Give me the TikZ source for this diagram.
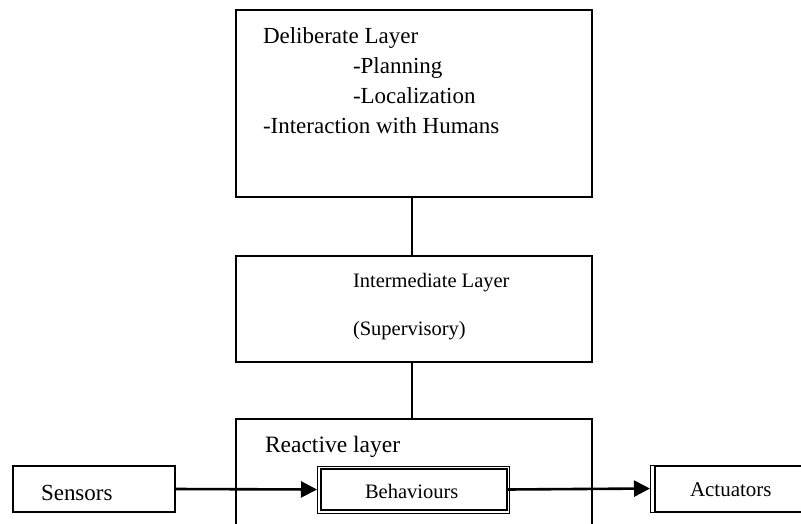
\documentclass[tikz,border=0pt]{standalone}
\usepackage{fontspec}
\setmainfont{Liberation Serif}
\usetikzlibrary{arrows.meta}
\begin{document}
\begin{tikzpicture}[x=1pt,y=-1pt,
  box/.style={draw, line width=2pt, inner sep=0pt, outer sep=0pt},
  thinframe/.style={draw, line width=1pt, inner sep=0pt, outer sep=0pt},
  link/.style={line width=1.8pt},
  flow/.style={line width=2.6pt, -{Triangle[length=16pt,width=16pt]}},
  lbl/.style={anchor=base west, inner sep=0pt, outer sep=0pt}]
\useasboundingbox (0,0) rectangle (801,523);
\clip (0,0) rectangle (801,523);
% layer boxes
\node[box, minimum width=356pt, minimum height=187pt] (delib) at (414,103.5) {};
\node[box, minimum width=356pt, minimum height=106pt] (inter) at (414,309) {};
\node[box, minimum width=356pt, minimum height=141pt] (react) at (414,489.5) {};
% inner boxes
\node[box, minimum width=162pt, minimum height=46pt] (sens) at (94,489) {};
\node[thinframe, minimum width=192pt, minimum height=47pt] (behframe) at (413,489.5) {};
\node[box, minimum width=186pt, minimum height=41pt] (beh) at (414,489.5) {};
\node[thinframe, minimum width=160pt, minimum height=47pt] (actframe) at (730,488.5) {};
\node[box, minimum width=155pt, minimum height=46pt] (act) at (732.5,489) {};
% texts
\node[lbl, font=\fontsize{23}{27}\selectfont] (t1) at (263,43) {Deliberate Layer};
\node[lbl, font=\fontsize{23}{27}\selectfont] (t2) at (353,73) {-Planning};
\node[lbl, font=\fontsize{23}{27}\selectfont] (t3) at (353,103) {-Localization};
\node[lbl, font=\fontsize{23}{27}\selectfont] (t4) at (263,133) {-Interaction with Humans};
\node[lbl, font=\fontsize{20.5}{24}\selectfont] (t5) at (353,287) {Intermediate Layer};
\node[lbl, font=\fontsize{20.5}{24}\selectfont] (t6) at (353,335) {(Supervisory)};
\node[lbl, font=\fontsize{23.5}{27}\selectfont] (t7) at (265,452) {Reactive layer};
\node[lbl, font=\fontsize{23}{27}\selectfont] (t8) at (41,500) {Sensors};
\node[lbl, font=\fontsize{20.5}{24}\selectfont] (t9) at (365,498) {Behaviours};
\node[lbl, font=\fontsize{21}{25}\selectfont] (t10) at (690,496) {Actuators};
% connectors
\draw[link] ([xshift=-2pt]delib.south) -- ([xshift=-2pt]inter.north);
\draw[link] ([xshift=-2pt]inter.south) -- ([xshift=-2pt]react.north);
\draw[flow] (sens.east) -- (behframe.west);
\draw[flow] (beh.east) -- (actframe.west);
\end{tikzpicture}
\end{document}
